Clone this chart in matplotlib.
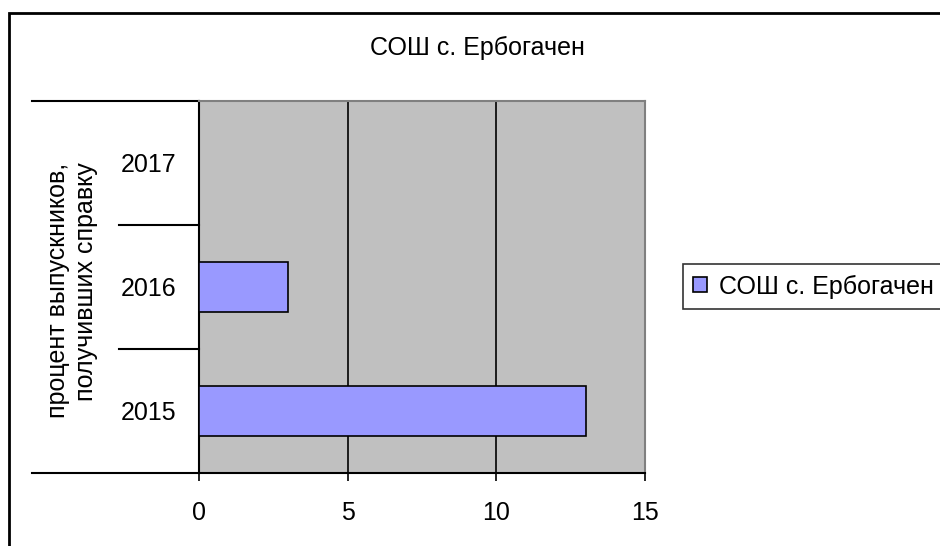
import matplotlib.pyplot as plt
from matplotlib.patches import Rectangle
import matplotlib.transforms as mtransforms

plt.rcParams['font.family'] = ['Liberation Sans', 'DejaVu Sans']

# Данные
years = ['2015', '2016', '2017']
values = [13, 3, 0]
series_name = 'СОШ с. Ербогачен'
title = 'СОШ с. Ербогачен'
ylabel = 'процент выпускников,\nполучивших справку'
xticks = [0, 5, 10, 15]

W, H = 940, 546
fig = plt.figure(figsize=(W / 100, H / 100), dpi=100)

# Рамка диаграммы (обрезана справа и снизу)
fig.patches.append(Rectangle((9 / W, -0.1), 1.2, (H - 13) / H + 0.1,
                             transform=fig.transFigure, fill=False,
                             edgecolor='black', linewidth=2))

ax = fig.add_axes([199 / W, (H - 473) / H, 446 / W, 372 / H])
ax.set_facecolor('#C0C0C0')

pos = list(range(len(years)))
bars = ax.barh(pos, values, height=0.4, color='#9999FF',
               edgecolor='black', linewidth=1.2, label=series_name, zorder=3)

ax.set_xlim(0, 15)
ax.set_ylim(-0.5, len(years) - 0.5)
ax.set_xticks(xticks)
ax.set_xticklabels([str(t) for t in xticks], fontsize=18)
ax.tick_params(axis='x', length=6, width=1.2, color='black', pad=14)
ax.set_yticks(pos)
ax.set_yticklabels(years, fontsize=18)
ax.tick_params(axis='y', length=0, pad=16)

for x in [5, 10]:
    ax.axvline(x, color='black', linewidth=1.2, zorder=2)

for s in ['left', 'bottom']:
    ax.spines[s].set_color('black')
    ax.spines[s].set_linewidth(1.5)
for s in ['top', 'right']:
    ax.spines[s].set_color('#808080')
    ax.spines[s].set_linewidth(1.5)

# Линии-разделители категорий слева от оси
trans = mtransforms.blended_transform_factory(ax.transAxes, ax.transData)
bounds = [b - 0.5 for b in range(len(years) + 1)]
for i, b in enumerate(bounds):
    x0 = (32 - 199) / 446 if i in (0, len(bounds) - 1) else (119 - 199) / 446
    ax.plot([x0, 0], [b, b], color='black', linewidth=1.5,
            transform=trans, clip_on=False)

fig.text(477 / W, (H - 48) / H, title, ha='center', va='center', fontsize=18)
fig.text(72 / W, (H - 290) / H, ylabel, rotation=90, ha='center', va='center',
         multialignment='right', fontsize=18)

leg = fig.legend(handles=[bars], labels=[series_name], loc='center left',
                 bbox_to_anchor=(683 / W, (H - 286.5) / H), fontsize=18,
                 frameon=True, fancybox=False, handlelength=0.55,
                 handleheight=0.55, handletextpad=0.5, borderpad=0.4,
                 borderaxespad=0)
leg.get_frame().set_edgecolor('black')
leg.get_frame().set_linewidth(1.2)

fig.savefig('out.png', dpi=100)
